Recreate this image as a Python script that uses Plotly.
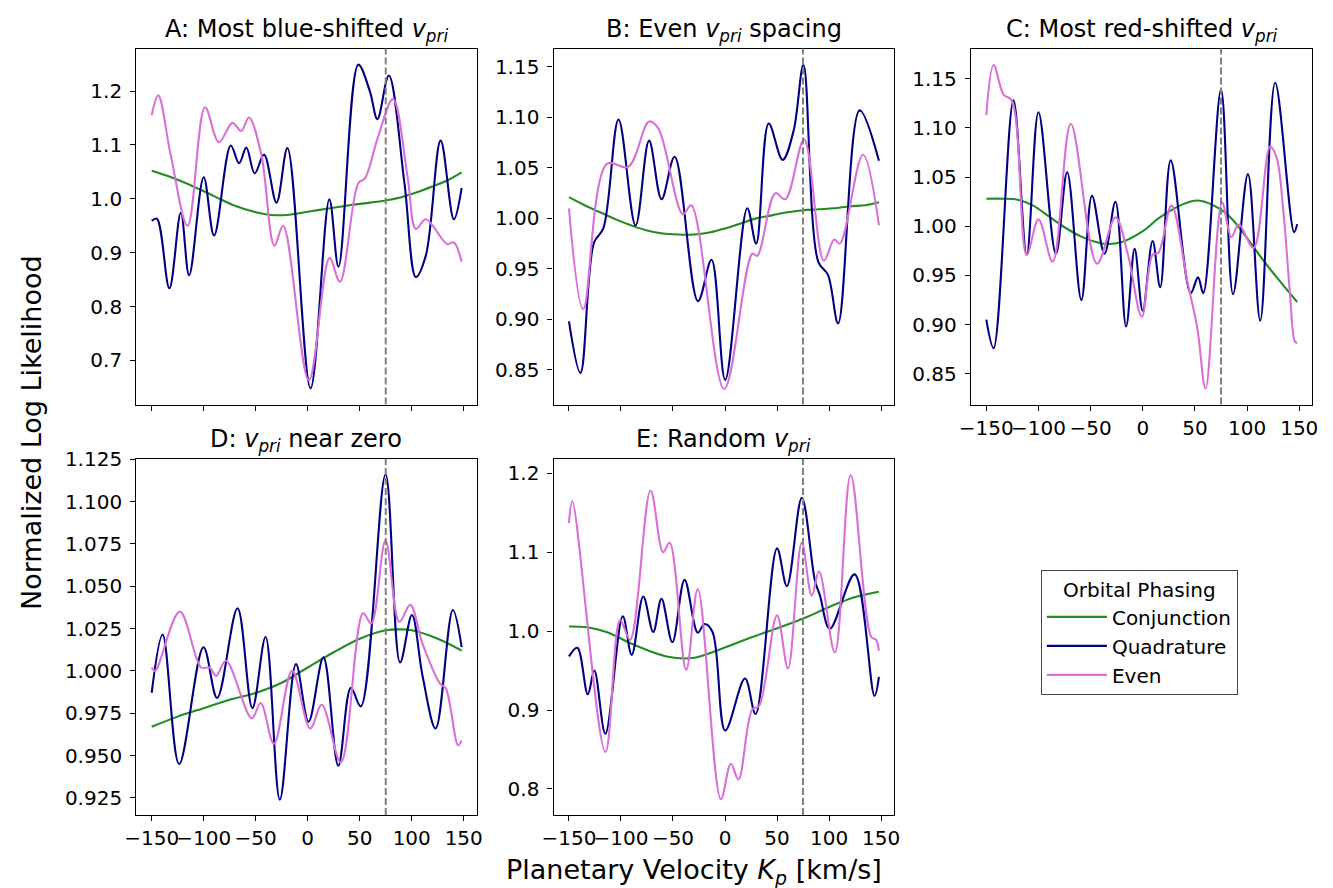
import plotly.graph_objects as go

W, H = 1333, 888

# ---------------- data ----------------
KP_TRUE = 75  # dashed vertical marker

SERIES = ["Conjunction", "Quadrature", "Even"]
COLORS = {"Conjunction": "#228b22", "Quadrature": "#000080", "Even": "#da70d6"}

# Panel A: Most blue-shifted
a_conj_x = [-150, -130, -110, -90, -70, -50, -35, -20, 0, 20, 40, 60, 75, 90, 105, 120, 135, 148]
a_conj_y = [1.052, 1.039, 1.023, 1.005, 0.987, 0.975, 0.970, 0.970, 0.976, 0.982, 0.988, 0.993, 0.997, 1.003, 1.012, 1.023, 1.035, 1.049]
a_quad_x = [-150, -145, -133, -122, -114, -100, -90, -74, -66, -59, -51, -42, -30, -19.5, 2.7, 20.8, 29.6, 48.6, 59.7, 67, 78, 93, 104, 113.6, 127.8, 140.5, 148]
a_quad_y = [0.959, 0.963, 0.834, 0.974, 0.858, 1.040, 0.932, 1.099, 1.066, 1.095, 1.047, 1.082, 0.993, 1.094, 0.648, 0.999, 0.874, 1.249, 1.200, 1.148, 1.229, 1.029, 0.855, 0.895, 1.108, 0.962, 1.020]
a_even_x = [-150, -143.7, -132, -115.5, -98.7, -85.4, -72.4, -64, -56.5, -44.8, -32, -23.6, 1.1, 21, 31, 48.6, 55, 67.6, 82, 96, 104, 113.6, 134, 140.5, 148]
a_even_y = [1.155, 1.192, 1.084, 0.950, 1.170, 1.105, 1.141, 1.126, 1.151, 1.084, 0.913, 0.950, 0.663, 0.890, 0.846, 1.029, 1.038, 1.115, 1.185, 1.041, 0.944, 0.962, 0.916, 0.919, 0.883]

# Panel B: Even spacing
b_conj_x = [-150, -135, -120, -105, -90, -75, -60, -45, -30, -15, 0, 15, 30, 45, 60, 75, 90, 105, 120, 135, 148]
b_conj_y = [1.021, 1.013, 1.006, 0.999, 0.993, 0.988, 0.985, 0.984, 0.984, 0.986, 0.990, 0.995, 1.000, 1.003, 1.006, 1.008, 1.009, 1.010, 1.012, 1.013, 1.016]
b_quad_x = [-150, -139, -126, -117, -102.4, -86, -73, -61, -48.4, -26, -13, 0.2, 21.4, 30, 42, 55.4, 66, 75.4, 89.7, 99, 108.8, 129.4, 148]
b_quad_y = [0.898, 0.847, 0.976, 0.990, 1.098, 0.993, 1.077, 1.019, 1.061, 0.918, 0.959, 0.840, 1.010, 0.975, 1.094, 1.058, 1.087, 1.152, 0.957, 0.944, 0.896, 1.107, 1.057]
b_even_x = [-150, -136.3, -113.5, -93, -73, -64, -40.5, -32.5, -0.8, 26.2, 31, 48.4, 58, 76, 95, 105, 110.4, 132.6, 148]
b_even_y = [1.010, 0.910, 1.054, 1.051, 1.096, 1.089, 1.004, 1.013, 0.831, 0.965, 0.963, 1.025, 1.019, 1.078, 0.958, 0.979, 0.975, 1.063, 0.993]

# Panel C: Most red-shifted
c_conj_x = [-150, -135, -120, -105, -90, -75, -60, -45, -35, -20, 0, 15, 30, 45, 55, 75, 85, 100, 115, 130, 148]
c_conj_y = [1.028, 1.028, 1.027, 1.021, 1.010, 0.999, 0.990, 0.984, 0.982, 0.984, 0.995, 1.008, 1.018, 1.025, 1.026, 1.017, 1.008, 0.988, 0.966, 0.946, 0.923]
c_quad_x = [-150, -143, -124, -111.3, -100, -83.3, -72.5, -58.9, -48.7, -36.7, -26.2, -16, -7.8, -0.1, 9.4, 16.7, 26.8, 45.9, 52.9, 58, 75, 86.5, 100.8, 112.6, 126.9, 145, 148]
c_quad_y = [0.905, 0.876, 1.128, 0.971, 1.116, 0.972, 1.055, 0.925, 1.031, 0.972, 1.025, 0.898, 0.977, 0.914, 0.985, 0.938, 1.067, 0.932, 0.948, 0.932, 1.139, 0.931, 1.053, 0.904, 1.146, 0.994, 1.002]
c_even_x = [-150, -143, -133.5, -125.6, -111.3, -100, -86.4, -69, -43.9, -26.2, -14.4, -1, 9.4, 15, 27.5, 42.7, 52.2, 60.2, 76, 84.9, 92, 106.2, 122, 128.2, 134.6, 141, 145.7, 148]
c_even_y = [1.113, 1.164, 1.134, 1.128, 0.971, 1.007, 0.964, 1.104, 0.962, 1.009, 0.972, 0.908, 0.971, 0.973, 1.021, 0.944, 0.897, 0.835, 1.024, 0.989, 1.002, 0.978, 1.081, 1.070, 1.017, 0.933, 0.883, 0.881]

# Panel D: near zero
d_conj_x = [-150, -125, -100, -75, -50, -25, 0, 25, 50, 75, 90, 100, 125, 148]
d_conj_y = [0.967, 0.973, 0.978, 0.983, 0.987, 0.993, 1.002, 1.011, 1.019, 1.024, 1.0245, 1.024, 1.019, 1.012]
d_quad_x = [-150, -139.5, -123.6, -100.2, -87.1, -67.5, -53.2, -40.5, -26.8, -11.3, 0.8, 15.1, 29.4, 41.5, 51, 74.8, 88.8, 100.2, 110.4, 123, 139.5, 148]
d_quad_y = [0.987, 1.0215, 0.945, 1.014, 0.984, 1.037, 0.978, 1.020, 0.924, 1.004, 0.970, 1.008, 0.944, 0.990, 0.979, 1.116, 1.005, 1.033, 0.997, 0.966, 1.036, 1.014]
d_even_x = [-150, -146.8, -123, -102.4, -94.4, -88, -78.6, -53.8, -45.2, -32.5, -15, 2.4, 13.5, 31.9, 53.2, 61.1, 74.8, 88.1, 98.6, 110.4, 127.8, 132.6, 144.6, 148]
d_even_y = [1.002, 1.000, 1.035, 1.002, 1.002, 0.997, 1.006, 0.972, 0.981, 0.957, 1.000, 0.966, 0.980, 0.946, 1.034, 1.028, 1.077, 1.029, 1.039, 1.016, 0.992, 0.990, 0.956, 0.959]

# Panel E: Random
e_conj_x = [-150, -132.5, -113.8, -88, -56.3, -31, -8.8, 23, 54.8, 77, 102.4, 124.6, 148]
e_conj_y = [1.006, 1.005, 0.999, 0.983, 0.968, 0.966, 0.975, 0.991, 1.006, 1.017, 1.032, 1.043, 1.050]
e_quad_x = [-150, -142, -131.9, -125.6, -115, -98.3, -89.7, -78.6, -69, -61.1, -50.6, -38.9, -26.2, -19.8, -12, 0.2, 19.2, 29.4, 50, 59.5, 73.8, 86.5, 91.3, 100.8, 124.6, 143.7, 148]
e_quad_y = [0.968, 0.979, 0.920, 0.950, 0.870, 1.019, 0.970, 1.044, 0.999, 1.041, 0.986, 1.065, 0.998, 1.009, 0.999, 0.874, 0.940, 0.895, 1.105, 1.057, 1.169, 1.064, 1.045, 1.003, 1.072, 0.918, 0.942]
e_even_x = [-150, -146.8, -115, -100.8, -91.3, -71.6, -59.5, -53.2, -37.3, -26.2, -4, 5.6, 12.9, 26.2, 32.6, 50, 60.5, 73.8, 83.4, 90.4, 105.6, 120.8, 140.5, 145.3, 148]
e_even_y = [1.137, 1.165, 0.847, 1.014, 0.989, 1.178, 1.100, 1.112, 0.951, 1.053, 0.787, 0.832, 0.812, 0.901, 0.905, 1.020, 0.953, 1.112, 1.045, 1.076, 0.973, 1.198, 0.993, 0.989, 0.975]

X_TICKS = [-150, -100, -50, 0, 50, 100, 150]
X_TICKTEXT = ["\u2212150", "\u2212100", "\u221250", "0", "50", "100", "150"]
A_YTICKS = [0.7, 0.8, 0.9, 1.0, 1.1, 1.2]
B_YTICKS = [0.85, 0.90, 0.95, 1.00, 1.05, 1.10, 1.15]
C_YTICKS = [0.85, 0.90, 0.95, 1.00, 1.05, 1.10, 1.15]
D_YTICKS = [0.925, 0.950, 0.975, 1.000, 1.025, 1.050, 1.075, 1.100, 1.125]
E_YTICKS = [0.8, 0.9, 1.0, 1.1, 1.2]

VSUB = "<i>v</i><sub><i>pri</i></sub>"
TITLES = {
    "A": "A: Most blue-shifted " + VSUB,
    "B": "B: Even " + VSUB + " spacing",
    "C": "C: Most red-shifted " + VSUB,
    "D": "D: " + VSUB + " near zero",
    "E": "E: Random " + VSUB,
}

# ---------------- layout geometry (pixels) ----------------
panels = [
    dict(key="A", px=(126, 471), py=(37, 398), yr=(0.618, 1.279), yt=A_YTICKS, fmt="{:.1f}", xlab=False,
         data=[(a_conj_x, a_conj_y), (a_quad_x, a_quad_y), (a_even_x, a_even_y)]),
    dict(key="B", px=(549, 894), py=(37, 398), yr=(0.8155, 1.1683), yt=B_YTICKS, fmt="{:.2f}", xlab=False,
         data=[(b_conj_x, b_conj_y), (b_quad_x, b_quad_y), (b_even_x, b_even_y)]),
    dict(key="C", px=(972, 1318), py=(37, 398), yr=(0.8186, 1.1808), yt=C_YTICKS, fmt="{:.2f}", xlab=True,
         data=[(c_conj_x, c_conj_y), (c_quad_x, c_quad_y), (c_even_x, c_even_y)]),
    dict(key="D", px=(126, 471), py=(453, 814), yr=(0.9149, 1.1252), yt=D_YTICKS, fmt="{:.3f}", xlab=True,
         data=[(d_conj_x, d_conj_y), (d_quad_x, d_quad_y), (d_even_x, d_even_y)]),
    dict(key="E", px=(549, 894), py=(453, 814), yr=(0.767, 1.2184), yt=E_YTICKS, fmt="{:.1f}", xlab=True,
         data=[(e_conj_x, e_conj_y), (e_quad_x, e_quad_y), (e_even_x, e_even_y)]),
]

X_RANGE = [-164.8, 162.4]
FONT = "DejaVu Sans"

fig = go.Figure()
layout = dict(
    width=W, height=H, margin=dict(l=0, r=0, t=0, b=0),
    paper_bgcolor="white", plot_bgcolor="white",
    font=dict(family=FONT, size=20, color="black"),
    showlegend=True,
)
annotations = []
shapes = []

for i, p in enumerate(panels):
    n = i + 1
    xa = "xaxis" if n == 1 else f"xaxis{n}"
    ya = "yaxis" if n == 1 else f"yaxis{n}"
    xr = "x" if n == 1 else f"x{n}"
    yr = "y" if n == 1 else f"y{n}"
    layout[xa] = dict(
        domain=[p["px"][0] / W, p["px"][1] / W], anchor=yr, range=X_RANGE,
        showgrid=False, zeroline=False, showline=True, mirror=True, linecolor="black", linewidth=1.3,
        ticks="outside", ticklen=5, tickwidth=1.3, tickcolor="black",
        tickmode="array", tickvals=X_TICKS, ticktext=X_TICKTEXT, showticklabels=p["xlab"],
        tickangle=0, tickfont=dict(size=20, family=FONT),
    )
    layout[ya] = dict(
        domain=[1 - p["py"][1] / H, 1 - p["py"][0] / H], anchor=xr, range=list(p["yr"]),
        showgrid=False, zeroline=False, showline=True, mirror=True, linecolor="black", linewidth=1.3,
        ticks="outside", ticklen=5, tickwidth=1.3, tickcolor="black",
        tickmode="array", tickvals=p["yt"], ticktext=[p["fmt"].format(v) for v in p["yt"]],
        tickfont=dict(size=20, family=FONT), ticklabelstandoff=4,
    )
    for name, (xs, ys) in zip(SERIES, p["data"]):
        fig.add_trace(go.Scatter(
            x=xs, y=ys, mode="lines", name=name, legendgroup=name, showlegend=(n == 1),
            line=dict(color=COLORS[name], width=2.1, shape="spline", smoothing=1.0),
            xaxis=xr, yaxis=yr, hoverinfo="skip",
        ))
    shapes.append(dict(type="line", xref=xr, yref=f"{yr} domain", x0=KP_TRUE, x1=KP_TRUE, y0=0, y1=1,
                       line=dict(color="gray", width=2, dash="7px,3px"), layer="above"))
    annotations.append(dict(
        text=TITLES[p["key"]], xref="paper", yref="paper",
        x=(p["px"][0] + p["px"][1]) / 2 / W, y=1 - (p["py"][0] - 1) / H,
        xanchor="center", yanchor="bottom", showarrow=False,
        font=dict(size=24, family=FONT, color="black"),
    ))

annotations.append(dict(
    text="Planetary Velocity <i>K</i><sub><i>p</i></sub> [km/s]", xref="paper", yref="paper",
    x=691 / W, y=1 - 871 / H, xanchor="center", yanchor="middle", showarrow=False,
    font=dict(size=27, family=FONT, color="black"),
))
annotations.append(dict(
    text="Normalized Log Likelihood", xref="paper", yref="paper",
    x=20 / W, y=1 - 426 / H, xanchor="center", yanchor="middle", showarrow=False, textangle=-90,
    font=dict(size=27, family=FONT, color="black"),
))

layout["annotations"] = annotations
layout["shapes"] = shapes
layout["legend"] = dict(
    x=1043 / W, y=1 - 566 / H, xanchor="left", yanchor="top",
    bgcolor="white", bordercolor="#444", borderwidth=1,
    font=dict(size=20, family=FONT, color="black"),
    title=dict(text="Orbital Phasing", side="top center", font=dict(size=20, family=FONT)),
    itemwidth=60, tracegroupgap=0,
)
fig.update_layout(**layout)
fig.write_html("out.html", post_script="document.body.style.margin='0px';")
